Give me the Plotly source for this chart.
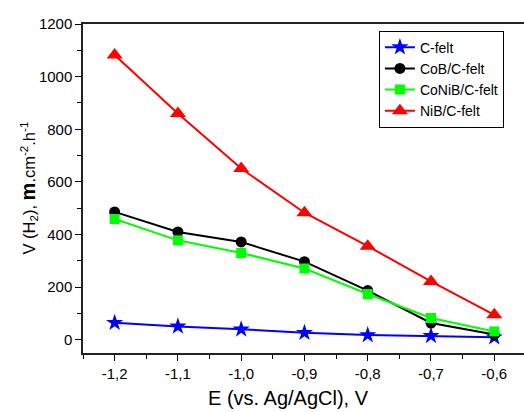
import plotly.graph_objects as go

E = [-1.2, -1.1, -1.0, -0.9, -0.8, -0.7, -0.6]
x_tick_vals = [-1.2, -1.1, -1.0, -0.9, -0.8, -0.7, -0.6]
x_tick_text = ["-1,2", "-1,1", "-1,0", "-0,9", "-0,8", "-0,7", "-0,6"]
y_tick_vals = [0, 200, 400, 600, 800, 1000, 1200]

c_felt = [65, 51, 40, 27, 18, 15, 10]
cob = [486, 410, 372, 297, 187, 64, 20]
conib = [459, 378, 330, 271, 174, 83, 32]
nib = [1082, 860, 651, 483, 356, 222, 95]

series = [
    ("C-felt", c_felt, "#0000FF", "star", 13),
    ("CoB/C-felt", cob, "#000000", "circle", 11),
    ("CoNiB/C-felt", conib, "#00FF00", "square", 10),
    ("NiB/C-felt", nib, "#FF0000", "triangle-up", 14),
]

fig = go.Figure()
for name, vals, color, sym, size in series:
    fig.add_trace(go.Scatter(
        x=E, y=vals, name=name, mode="lines+markers",
        line=dict(color=color, width=2),
        marker=dict(symbol=sym, size=size, color=color, line=dict(width=0)),
    ))

font = "Arial, Liberation Sans, sans-serif"
fig.update_layout(
    width=524, height=412,
    margin=dict(l=83, r=0, t=24, b=59),
    paper_bgcolor="white", plot_bgcolor="white",
    font=dict(family=font, size=15, color="black"),
    showlegend=True,
    legend=dict(
        x=0.671, y=0.98, xanchor="left", yanchor="top",
        bordercolor="black", borderwidth=1, bgcolor="white",
        font=dict(size=14), tracegroupgap=0, itemwidth=30,
    ),
    xaxis=dict(
        range=[-1.25, -0.553], tickmode="array",
        tickvals=x_tick_vals, ticktext=x_tick_text,
        ticks="outside", ticklen=6, tickwidth=1.2, tickcolor="black",
        minor=dict(ticks="outside", ticklen=4, tickwidth=1.2, tickcolor="black",
                   tickvals=[-1.25, -1.15, -1.05, -0.95, -0.85, -0.75, -0.65, -0.55]),
        showline=True, linecolor="#222", linewidth=1.5, mirror=True,
        showgrid=False, zeroline=False,
        tickfont=dict(size=15),
    ),
    yaxis=dict(
        range=[-50, 1200], tickmode="array", tickvals=y_tick_vals,
        ticks="outside", ticklen=6, tickwidth=1.2, tickcolor="black",
        minor=dict(ticks="outside", ticklen=4, tickwidth=1.2, tickcolor="black",
                   tickvals=[100, 300, 500, 700, 900, 1100]),
        showline=True, linecolor="#222", linewidth=1.5, mirror=False,
        showgrid=False, zeroline=False,
        tickfont=dict(size=15),
    ),
    annotations=[
        dict(text="E (vs. Ag/AgCl), V", xref="paper", yref="paper",
             x=(288 - 83) / 441, y=-0.137, xanchor="center", yanchor="middle",
             showarrow=False, font=dict(size=20)),
        dict(text="V (H<sub>2</sub>), <span style='font-size:20px'><b>m</b></span>.cm<sup>-2</sup>.h<sup>-1</sup>",
             xref="paper", yref="paper", x=(28 - 83) / 441, y=0.5,
             xanchor="center", yanchor="middle", textangle=-90,
             showarrow=False, font=dict(size=16.5)),
    ],
)

fig.write_html("out.html", config={"displayModeBar": False},
               post_script="document.body.style.margin='0';document.body.style.overflow='hidden';")
